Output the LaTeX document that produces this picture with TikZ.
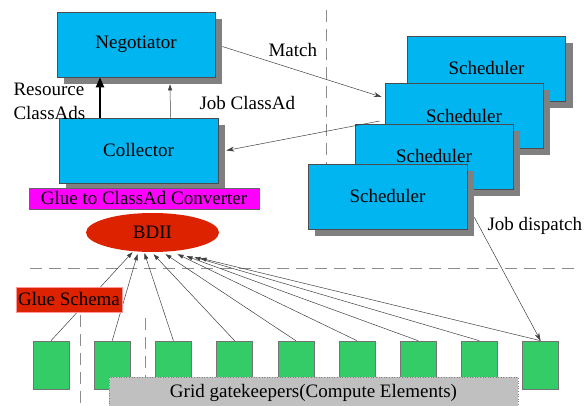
\documentclass[tikz,border=0pt]{standalone}
\usepackage{fontspec}
\setmainfont{Liberation Serif}
\usetikzlibrary{arrows.meta,positioning,shapes.geometric,shadows,calc}
\definecolor{daemonblue}{HTML}{00B5F0}
\definecolor{bdiired}{HTML}{DD2200}
\definecolor{cegreen}{HTML}{33CC66}
\definecolor{gluemagenta}{HTML}{FF00FF}
\definecolor{shadowgray}{HTML}{808080}
\definecolor{gatekeeper}{HTML}{C0C0C0}

\begin{document}
\begin{tikzpicture}[x=1pt, y=-1pt,
    every node/.style={font=\fontsize{19}{23}\selectfont},
    daemon/.style={rectangle, draw=black!70, fill=daemonblue, line width=0.6pt,
        minimum width=158pt, minimum height=65pt, inner sep=0pt,
        drop shadow={shadow xshift=7pt, shadow yshift=-7pt, fill=shadowgray, opacity=1}},
    ce/.style={rectangle, draw=black!55, fill=cegreen, line width=0.6pt,
        minimum width=36pt, minimum height=48pt, inner sep=0pt},
    tag/.style={rectangle, inner sep=0pt, line width=0.6pt},
    link/.style={draw=black!75, line width=0.5pt, -{Stealth[length=8pt, width=5pt]}},
    gridarrow/.style={draw=black!75, line width=0.5pt, -{Triangle[length=6pt, width=4pt]}},
    divider/.style={draw=black!45, line width=0.6pt, dash pattern=on 12pt off 7pt},
]
\useasboundingbox (0,0) rectangle (587,406);

% Site boundaries
\draw[divider] (326,10) -- (326,200);
\draw[divider] (30,268) -- (575,268);
\draw[divider] (80,315) -- (80,406);
\draw[divider] (145,318) -- (145,406);

% Central manager
\node[daemon] (negotiator) at (136,44.5) {Negotiator};
\node[daemon, minimum width=159pt] (collector) at (138.5,150.5) {Collector};

% Stack of schedulers
\node[daemon] (sch1) at (486.5,68.5) {Scheduler};
\node[daemon] (sch2) at (464,116) {Scheduler};
\node[daemon] (sch3) at (434,156.5) {Scheduler};
\node[daemon, minimum width=159pt] (sch4) at (387.5,196.5) {Scheduler};

% ClassAd flow
\draw[draw=black, line width=2pt, -{Triangle[length=10pt, width=8pt]}]
    ([xshift=-38.5pt]collector.north) -- ([xshift=-36pt]negotiator.south);
\draw[gridarrow] ([xshift=32pt]collector.north) -- ([xshift=34pt, yshift=-7pt]negotiator.south);
\draw[link] ([xshift=7pt, yshift=-2pt]negotiator.east) -- ([xshift=-3pt, yshift=19pt]sch2.west);
\draw[link] ([xshift=-5pt, yshift=-5pt]sch2.west) -- ([xshift=8pt]collector.east);

\node[anchor=west, align=left, font=\fontsize{19}{24}\selectfont] (resads) at (10,101) {Resource\\ClassAds};
\node[anchor=west] (jobad) at (196,103) {Job ClassAd};
\node[anchor=west] (match) at (265,50) {Match};

% Information system
\node[tag, draw=black!60, fill=gluemagenta, minimum width=230pt, minimum height=21pt]
    (converter) at (144,198.5) {Glue to ClassAd Converter};
\node[ellipse, fill=bdiired, inner sep=0pt, minimum width=133pt, minimum height=39pt]
    (bdii) at (152.5,232.5) {BDII};

% Compute elements
\foreach \i in {1,...,9}
    \node[ce] (g\i) at ({51+61.2*(\i-1)},365) {};

\foreach \i/\dx/\dy in {1/-20/0, 2/-15/2, 3/-8/1, 4/1/2, 5/13/2, 6/25/2, 7/34/4, 8/42/5, 9/48/6}
    \draw[gridarrow] (g\i.north) -- ([xshift=\dx pt, yshift=-\dy pt]bdii.south);

\node[tag, draw=red!40, fill=bdiired, minimum width=106pt, minimum height=25pt]
    (schema) at (69,299.5) {Glue Schema};

% Job dispatch to a gatekeeper
\draw[link] ([xshift=7pt, yshift=12pt]sch4.south east) -- (g9.north);
\node[anchor=west] (dispatch) at (484,226) {Job dispatch};

\node[tag, draw=black!50, dotted, fill=gatekeeper, minimum width=409pt, minimum height=32pt]
    (gatekeepers) at (313.5,393) {Grid gatekeepers(Compute Elements)};

\end{tikzpicture}
\end{document}
